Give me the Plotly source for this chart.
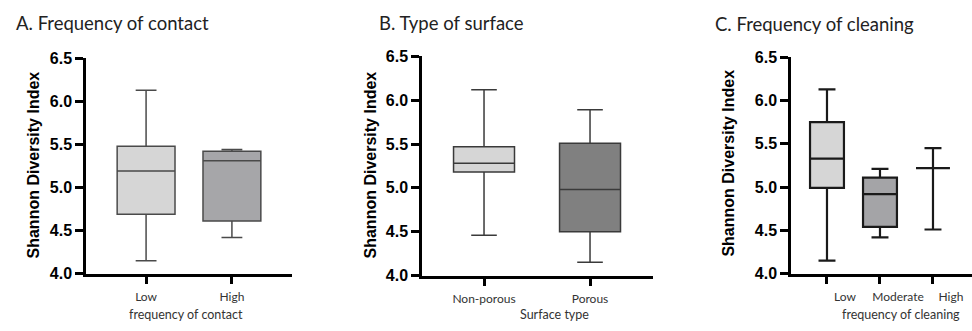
import plotly.graph_objects as go

W, H = 972, 331

# ---- data ----
a_cats = ["Low", "High"]
a_q1 = [4.69, 4.61]
a_med = [5.19, 5.31]
a_q3 = [5.48, 5.42]
a_lo = [4.15, 4.42]
a_hi = [6.13, 5.44]

b_cats = ["Non-porous", "Porous"]
b_q1 = [5.18, 4.50]
b_med = [5.28, 4.98]
b_q3 = [5.47, 5.51]
b_lo = [4.46, 4.15]
b_hi = [6.12, 5.89]

c_cats = ["Low", "Moderate", "High"]
c_q1 = [4.99, 4.54, 5.22]
c_med = [5.33, 4.92, 5.22]
c_q3 = [5.75, 5.11, 5.22]
c_lo = [4.15, 4.42, 4.51]
c_hi = [6.13, 5.21, 5.45]

y_ticks = [4.0, 4.5, 5.0, 5.5, 6.0, 6.5]
y_ticktext = ["4.0", "4.5", "5.0", "5.5", "6.0", "6.5"]

titles = ["A. Frequency of contact", "B. Type of surface", "C. Frequency of cleaning"]
x_titles = ["frequency of contact", "Surface type", "frequency of cleaning"]
y_title = "Shannon Diversity Index"

# ---- styling ----
fills_a = ["#d6d6d6", "#a6a6a9"]
fills_b = ["#d6d6d6", "#808080"]
fills_c = ["#d6d6d6", "#a4a4a7", "rgba(0,0,0,0)"]


def px(x):
    return x / W


def py(y):
    return 1 - y / H


fig = go.Figure()

panels = [
    dict(cats=a_cats, q1=a_q1, med=a_med, q3=a_q3, lo=a_lo, hi=a_hi, fills=fills_a,
         line="#4a4a4a", lw=1.5, width=0.674, ww=0.36, ax="x", ay="y"),
    dict(cats=b_cats, q1=b_q1, med=b_med, q3=b_q3, lo=b_lo, hi=b_hi, fills=fills_b,
         line="#3a3a3a", lw=1.5, width=0.575, ww=0.42, ax="x2", ay="y2"),
    dict(cats=c_cats, q1=c_q1, med=c_med, q3=c_q3, lo=c_lo, hi=c_hi, fills=fills_c,
         line="#1a1a1a", lw=2.2, width=0.64, ww=0.5, ax="x3", ay="y3"),
]

for p in panels:
    for i, cat in enumerate(p["cats"]):
        fig.add_trace(go.Box(
            x=[cat], q1=[p["q1"][i]], median=[p["med"][i]], q3=[p["q3"][i]],
            lowerfence=[p["lo"][i]], upperfence=[p["hi"][i]],
            fillcolor=p["fills"][i], line=dict(color=p["line"], width=p["lw"]),
            width=p["width"], whiskerwidth=p["ww"], boxpoints=False,
            xaxis=p["ax"], yaxis=p["ay"], showlegend=False, hoverinfo="skip",
        ))

# axis geometry (pixels)
x_dom = [(86, 292), (422, 653), (791, 972)]
y_dom = [(280, 53), (282, 51), (280, 52)]
x_rng = [[-0.70, 1.70], [-0.585, 1.594], [-0.679, 2.736]]
shifts = [0, 0, 18]

common_y = dict(range=[4.0, 6.5], tickvals=y_ticks, ticktext=y_ticktext,
                showline=True, linecolor="black", linewidth=2.5,
                ticks="outside", ticklen=8, tickwidth=2.5, tickcolor="black",
                showgrid=False, zeroline=False,
                tickfont=dict(family="Liberation Sans", size=16, color="black", weight="bold"))
common_x = dict(type="category", showline=True, linecolor="black", linewidth=2.5,
                ticks="outside", ticklen=8, tickwidth=2.5, tickcolor="black",
                showgrid=False, zeroline=False, ticklabelstandoff=2,
                tickfont=dict(family="Lato", size=12, color="#333333"))

layout = dict(width=W, height=H, margin=dict(l=0, r=0, t=0, b=0),
              paper_bgcolor="white", plot_bgcolor="white", showlegend=False)
for k in range(3):
    sfx = "" if k == 0 else str(k + 1)
    xd = [px(x_dom[k][0]), min(1.0, px(x_dom[k][1]))]
    yd = [py(y_dom[k][0]), py(y_dom[k][1])]
    layout["xaxis" + sfx] = dict(common_x, domain=xd, range=x_rng[k],
                                 anchor="y" + sfx, ticklabelshift=shifts[k])
    layout["yaxis" + sfx] = dict(common_y, domain=yd, anchor="x" + sfx)
fig.update_layout(**layout)

ann = []
title_pos = [(14, 16), (377, 16), (713, 17)]
for k in range(3):
    ann.append(dict(text=titles[k], x=px(title_pos[k][0]), y=py(title_pos[k][1]),
                    xref="paper", yref="paper", xanchor="left", yanchor="middle",
                    showarrow=False, font=dict(family="Lato", size=18.5, color="#222222")))
ytitle_pos = [(33, 166), (370, 166), (729, 164)]
for k in range(3):
    ann.append(dict(text=y_title, x=px(ytitle_pos[k][0]), y=py(ytitle_pos[k][1]),
                    xref="paper", yref="paper", xanchor="center", yanchor="middle",
                    textangle=-90, showarrow=False,
                    font=dict(family="Liberation Sans", size=16, color="black", weight="bold")))
xtitle_pos = [(186, 323), (554, 323), (901, 323)]
for k in range(3):
    ann.append(dict(text=x_titles[k], x=px(xtitle_pos[k][0]), y=py(xtitle_pos[k][1]),
                    xref="paper", yref="paper", xanchor="center", yanchor="middle",
                    showarrow=False, borderpad=0,
                    font=dict(family="Lato", size=12.5, color="#333333")))
fig.update_layout(annotations=ann)

fig.write_html("out.html")
